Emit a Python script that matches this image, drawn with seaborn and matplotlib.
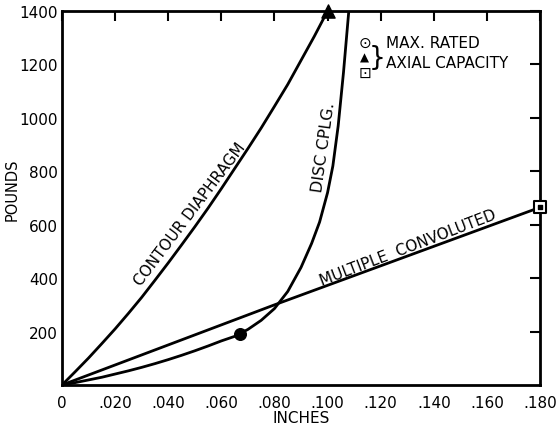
import numpy as np
import pandas as pd
import seaborn as sns
from matplotlib import pyplot as plt

# curve values (inches, pounds)
contour_x = [0, .005, .010, .015, .020, .025, .030, .035, .040, .045, .050, .055, .060, .065,
             .070, .075, .080, .085, .090, .095, .100]
contour_y = [0, 50, 101, 155, 210, 268, 328, 392, 457, 524, 592, 662, 735, 810,
             885, 962, 1043, 1125, 1215, 1305, 1400]

disc_x = [0, .005, .010, .015, .020, .025, .030, .035, .040, .045, .050, .055, .060, .065,
          .070, .075, .080, .085, .090, .094, .097, .100, .102, .104, .106, .108]
disc_y = [0, 9, 19, 29, 41, 53, 66, 80, 95, 111, 128, 146, 165, 182,
          208, 242, 286, 350, 440, 530, 610, 720, 820, 970, 1170, 1400]

conv_x = [0, .080, .180]
conv_y = [0, 300, 665]

# max rated axial capacity points
max_circle = (.067, 190)
max_triangle = (.100, 1400)
max_square = (.180, 665)

x_ticks = [0, .020, .040, .060, .080, .100, .120, .140, .160, .180]
x_labels = ['0', '.020', '.040', '.060', '.080', '.100', '.120', '.140', '.160', '.180']
y_ticks = [200, 400, 600, 800, 1000, 1200, 1400]
y_labels = ['200', '400', '600', '800', '1000', '1200', '1400']

sns.set_style('white')
plt.rcParams['font.family'] = ['DejaVu Sans']
plt.rcParams['text.color'] = 'black'
plt.rcParams['axes.labelcolor'] = 'black'
plt.rcParams['xtick.color'] = 'black'
plt.rcParams['ytick.color'] = 'black'

fig = plt.figure(figsize=(5.56, 4.35), dpi=100)
ax = fig.add_axes([62 / 556, 1 - 386 / 435, 478 / 556, 374 / 435])

lw = 2.0
for xs, ys in [(contour_x, contour_y), (disc_x, disc_y), (conv_x, conv_y)]:
    df = pd.DataFrame({'x': xs, 'y': ys})
    sns.lineplot(data=df, x='x', y='y', ax=ax, color='black', lw=lw, sort=False)

ax.scatter(*max_circle, s=70, color='black', zorder=5, clip_on=False)
ax.scatter(*max_triangle, s=90, marker='^', color='black', zorder=5, clip_on=False)
ax.scatter(*max_square, s=80, marker='s', facecolor='white', edgecolor='black',
           linewidth=1.5, zorder=5, clip_on=False)
ax.scatter(*max_square, s=8, marker='s', color='black', zorder=6, clip_on=False)

ax.set_xlim(0, .180)
ax.set_ylim(0, 1400)
ax.set_xticks(x_ticks)
ax.set_xticklabels(x_labels)
ax.set_yticks(y_ticks)
ax.set_yticklabels(y_labels)
ax.tick_params(direction='in', length=7, width=1.5, labelsize=11,
               top=True, right=True, labeltop=False, labelright=False)
ax.tick_params(axis='x', pad=7)
ax.tick_params(axis='y', pad=3)
for s in ax.spines.values():
    s.set_linewidth(2)
    s.set_color('black')

ax.set_xlabel('INCHES', fontsize=11, labelpad=0)
ax.set_ylabel('POUNDS', fontsize=10.5, labelpad=0)
ax.yaxis.set_label_coords(-0.088, 0.524)

# curve labels
ax.text(.048, 640, 'CONTOUR DIAPHRAGM', rotation=53, fontsize=11,
        ha='center', va='center', rotation_mode='anchor')
ax.text(.0985, 891, 'DISC CPLG.', rotation=82, fontsize=11.5,
        ha='center', va='center', rotation_mode='anchor')
ax.text(.1302, 517, 'MULTIPLE  CONVOLUTED', rotation=21, fontsize=11,
        ha='center', va='center', rotation_mode='anchor')

# marker key
ax.text(.1140, 1283, '\u2299', fontsize=11, ha='center', va='center')
ax.text(.1140, 1228, '\u25b2', fontsize=8.5, ha='center', va='center')
ax.text(.1140, 1172, '\u22a1', fontsize=11, ha='center', va='center')
ax.text(.1188, 1226, '}', fontsize=19, ha='center', va='center')
ax.text(.1220, 1283, 'MAX. RATED', fontsize=11, ha='left', va='center')
ax.text(.1220, 1208, 'AXIAL CAPACITY', fontsize=11, ha='left', va='center')

plt.savefig('out.png', dpi=100)
plt.close()
